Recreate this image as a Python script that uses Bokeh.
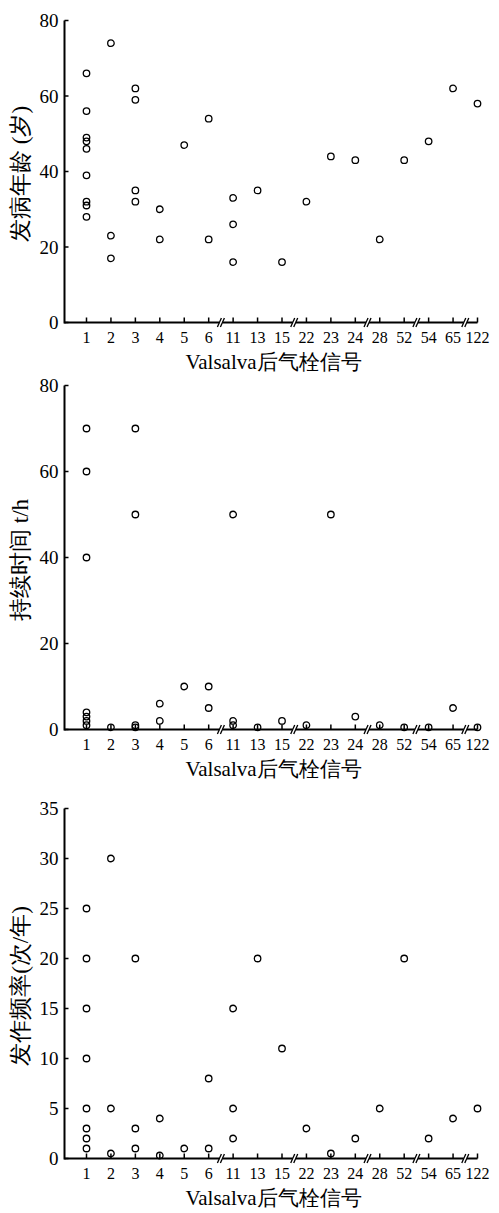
from bokeh.plotting import figure
from bokeh.models import FixedTicker, Range1d
from bokeh.layouts import column
from bokeh.embed import file_html
from bokeh.resources import INLINE

# ---------------- data ----------------
categories = ["1", "2", "3", "4", "5", "6", "11", "13", "15", "22", "23",
              "24", "28", "52", "54", "65", "122"]
break_after = ["6", "15", "24", "52", "65"]

onset_age = {
    "1": [66, 56, 49, 48, 46, 39, 32, 31, 28], "2": [74, 23, 17],
    "3": [62, 59, 35, 32], "4": [30, 22], "5": [47], "6": [54, 22],
    "11": [33, 26, 16], "13": [35], "15": [16], "22": [32], "23": [44],
    "24": [43], "28": [22], "52": [43], "54": [48], "65": [62], "122": [58],
}
duration_h = {
    "1": [70, 60, 40, 4, 3, 2, 1], "2": [0.5], "3": [70, 50, 1, 0.5],
    "4": [6, 2], "5": [10], "6": [10, 5], "11": [50, 2, 1], "13": [0.5],
    "15": [2], "22": [1], "23": [50], "24": [3], "28": [1], "52": [0.5],
    "54": [0.5], "65": [5], "122": [0.5],
}
frequency = {
    "1": [25, 20, 15, 10, 5, 3, 2, 1], "2": [30, 5, 0.5], "3": [20, 3, 1],
    "4": [4, 0.3], "5": [1], "6": [8, 1], "11": [15, 5, 2], "13": [20],
    "15": [11], "22": [3], "23": [0.5], "24": [2], "28": [5], "52": [20],
    "54": [2], "65": [4], "122": [5],
}
age_ticks = [0, 20, 40, 60, 80]
duration_ticks = [0, 20, 40, 60, 80]
frequency_ticks = [0, 5, 10, 15, 20, 25, 30, 35]

x_title = "Valsalva后气栓信号"
age_title = "发病年龄 (岁)"
duration_title = "持续时间 t/h"
frequency_title = "发作频率(次/年)"

# ---------------- drawing ----------------
W = 491
BL, BR = 60, 5
SERIF = "Liberation Serif"


def make_panel(data, yticks, ytitle, H, top, bottom):
    ymax = yticks[-1]
    frame_w = W - BL - BR
    frame_h = H - top - bottom
    ppx = 391.0 / (len(categories) - 1)
    x0 = -26.0 / ppx
    x1 = x0 + frame_w / ppx
    ppu = (frame_h - 9.0) / ymax
    y0 = -7.0 / ppu
    y1 = ymax + 2.0 / ppu

    p = figure(width=W, height=H, output_backend="svg", toolbar_location=None,
               x_range=Range1d(x0, x1), y_range=Range1d(y0, y1),
               min_border_left=BL, min_border_right=BR,
               min_border_top=top, min_border_bottom=bottom)
    p.outline_line_color = None
    p.xgrid.visible = False
    p.ygrid.visible = False
    p.background_fill_color = "white"
    p.border_fill_color = "white"

    # points
    xs, ys = [], []
    for c in categories:
        for v in data.get(c, []):
            xs.append(categories.index(c))
            ys.append(v)
    p.scatter(xs, ys, marker="circle", size=6.5, fill_color=None,
              line_color="black", line_width=1.3)

    xl = x0 + 4.0 / ppx
    lw = 2
    # y axis line + ticks
    p.segment([xl], [-1.0 / ppu], [xl], [ymax], line_color="black", line_width=lw)
    p.segment([xl] * len(yticks), yticks, [xl + 4.0 / ppx] * len(yticks), yticks,
              line_color="black", line_width=1.5)
    # x axis line with breaks
    centers = [categories.index(b) + 0.5 for b in break_after]
    gap = 1.5 / ppx
    sx0, sx1 = [xl], []
    for c in centers:
        sx1.append(c - gap)
        sx0.append(c + gap)
    sx1.append(len(categories) - 1)
    p.segment(sx0, [0] * len(sx0), sx1, [0] * len(sx1), line_color="black",
              line_width=lw, line_cap="butt")
    # x ticks
    n = len(categories)
    p.segment(list(range(n)), [0] * n, list(range(n)), [5.0 / ppu] * n,
              line_color="black", line_width=1.5)
    # break slashes
    bx0, by0, bx1, by1 = [], [], [], []
    for c in centers:
        for off in (-1.5, 1.5):
            bx0.append(c + (off - 2.0) / ppx)
            by0.append(-4.5 / ppu)
            bx1.append(c + (off + 2.0) / ppx)
            by1.append(4.5 / ppu)
    p.segment(bx0, by0, bx1, by1, line_color="black", line_width=1.3)

    # axes (labels only)
    for ax in (p.xaxis[0], p.yaxis[0]):
        ax.axis_line_color = None
        ax.major_tick_line_color = None
        ax.minor_tick_line_color = None
        ax.major_tick_out = 0
        ax.major_tick_in = 0
        ax.major_label_text_color = "black"
        ax.major_label_text_font = SERIF
        ax.axis_label_text_font = SERIF
        ax.axis_label_text_font_style = "normal"
        ax.axis_label_text_color = "black"
    p.xaxis.ticker = FixedTicker(ticks=list(range(n)))
    p.xaxis.major_label_overrides = {i: c for i, c in enumerate(categories)}
    p.xaxis.major_label_text_font_size = "16px"
    p.xaxis.major_label_standoff = 2
    p.xaxis.axis_label = x_title
    p.xaxis.axis_label_text_font_size = "21px"
    p.xaxis.axis_label_standoff = 4

    p.yaxis.ticker = FixedTicker(ticks=yticks)
    p.yaxis.major_label_text_font_size = "19px"
    p.yaxis.major_label_standoff = 2
    p.yaxis.axis_label = ytitle
    p.yaxis.axis_label_text_font_size = "23px"
    p.yaxis.axis_label_standoff = 4
    return p


p1 = make_panel(onset_age, age_ticks, age_title, 376, 18, 47)
p2 = make_panel(duration_h, duration_ticks, duration_title, 420, 7, 60)
p3 = make_panel(frequency, frequency_ticks, frequency_title, 416, 10, 47)

layout = column(p1, p2, p3, spacing=0)
open("out.html", "w").write(file_html(layout, INLINE))
